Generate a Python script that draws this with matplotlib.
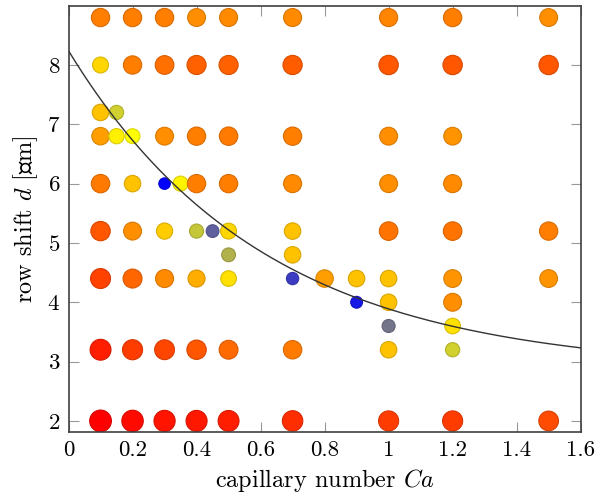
import numpy as np
import matplotlib.pyplot as plt
from matplotlib.colors import LinearSegmentedColormap

plt.rcParams['font.family'] = ['cmr10', 'DejaVu Serif']
plt.rcParams['mathtext.fontset'] = 'cm'
plt.rcParams['axes.formatter.use_mathtext'] = True

# capillary number, row shift, colour value (0 = blue, 0.5 = yellow, 1 = red)
ca = [0.1, 0.2, 0.3, 0.4, 0.5, 0.7, 1.0, 1.2, 1.5,          # d = 8.8
      0.1, 0.2, 0.3, 0.4, 0.5, 0.7, 1.0, 1.2, 1.5,          # d = 8.0
      0.1, 0.15,                                            # d = 7.2
      0.1, 0.15, 0.2, 0.3, 0.4, 0.5, 0.7, 1.0, 1.2,         # d = 6.8
      0.1, 0.2, 0.3, 0.35, 0.4, 0.5, 0.7, 1.0, 1.2,         # d = 6.0
      0.1, 0.2, 0.3, 0.4, 0.45, 0.5, 0.7, 1.0, 1.2, 1.5,    # d = 5.2
      0.5, 0.7,                                             # d = 4.8
      0.1, 0.2, 0.3, 0.4, 0.5, 0.7, 0.8, 0.9, 1.0, 1.2, 1.5,  # d = 4.4
      0.9, 1.0, 1.2,                                        # d = 4.0
      1.0, 1.2,                                             # d = 3.6
      0.1, 0.2, 0.3, 0.4, 0.5, 0.7, 1.0, 1.2,               # d = 3.2
      0.1, 0.2, 0.3, 0.4, 0.5, 0.7, 1.0, 1.2, 1.5]          # d = 2.0

d = [8.8] * 9 + [8.0] * 9 + [7.2] * 2 + [6.8] * 9 + [6.0] * 9 + \
    [5.2] * 10 + [4.8] * 2 + [4.4] * 11 + [4.0] * 3 + [3.6] * 2 + \
    [3.2] * 8 + [2.0] * 9

meta = [0.75, 0.75, 0.75, 0.72, 0.73, 0.73, 0.74, 0.75, 0.72,
        0.58, 0.75, 0.78, 0.81, 0.81, 0.82, 0.83, 0.83, 0.83,
        0.62, 0.41,
        0.69, 0.53, 0.50, 0.72, 0.75, 0.76, 0.75, 0.72, 0.71,
        0.76, 0.62, 0.00, 0.52, 0.75, 0.75, 0.73, 0.72, 0.73,
        0.83, 0.72, 0.60, 0.39, 0.19, 0.58, 0.62, 0.77, 0.77, 0.75,
        0.35, 0.62,
        0.87, 0.80, 0.73, 0.66, 0.56, 0.12, 0.69, 0.62, 0.62, 0.71, 0.71,
        0.05, 0.62, 0.72,
        0.23, 0.56,
        0.94, 0.88, 0.86, 0.83, 0.79, 0.76, 0.62, 0.41,
        1.00, 0.98, 0.96, 0.95, 0.94, 0.91, 0.88, 0.88, 0.85]

# fitted boundary d = A + B exp(-Ca / tau)
fit_A, fit_B, fit_tau = 2.84, 5.40, 0.61

cmap = LinearSegmentedColormap.from_list('byr', [(0, 0, 1), (1, 1, 0), (1, 0, 0)])
meta = np.array(meta)
colors = cmap(meta)
edges = colors.copy()
edges[:, :3] *= 0.85
diam = np.interp(meta, [0, 0.5, 0.75, 1.0], [11.5, 14.8, 18.3, 21.7])  # px
sizes = (diam * 0.72) ** 2

fig = plt.figure(figsize=(5.98, 4.97), dpi=100)
ax = fig.add_axes([0.1146, 0.131, 0.971 - 0.1146, 0.988 - 0.131])

ax.scatter(ca, d, s=sizes, c=colors, edgecolors=edges, linewidths=0.8, zorder=2)

xc = np.linspace(0, 1.6, 300)
ax.plot(xc, fit_A + fit_B * np.exp(-xc / fit_tau), color='#333333', lw=1.0, zorder=3)

ax.set_xlim(0, 1.6)
ax.set_ylim(1.815, 8.995)
ax.set_xticks(np.arange(0, 1.61, 0.2))
ax.set_xticklabels(['0', '0.2', '0.4', '0.6', '0.8', '1', '1.2', '1.4', '1.6'])
ax.set_yticks(range(2, 9))
ax.tick_params(direction='in', top=True, right=True, length=7, width=0.8,
               color='#999999', labelsize=16.5, pad=6)
for sp in ax.spines.values():
    sp.set_color('#404040')
    sp.set_linewidth(1.2)

ax.set_xlabel('capillary number $Ca$', fontsize=17.5, labelpad=5)
ax.set_ylabel('row shift $d$ [\u03bcm]', fontsize=17.5, labelpad=5)

fig.savefig('out.png', dpi=100)
